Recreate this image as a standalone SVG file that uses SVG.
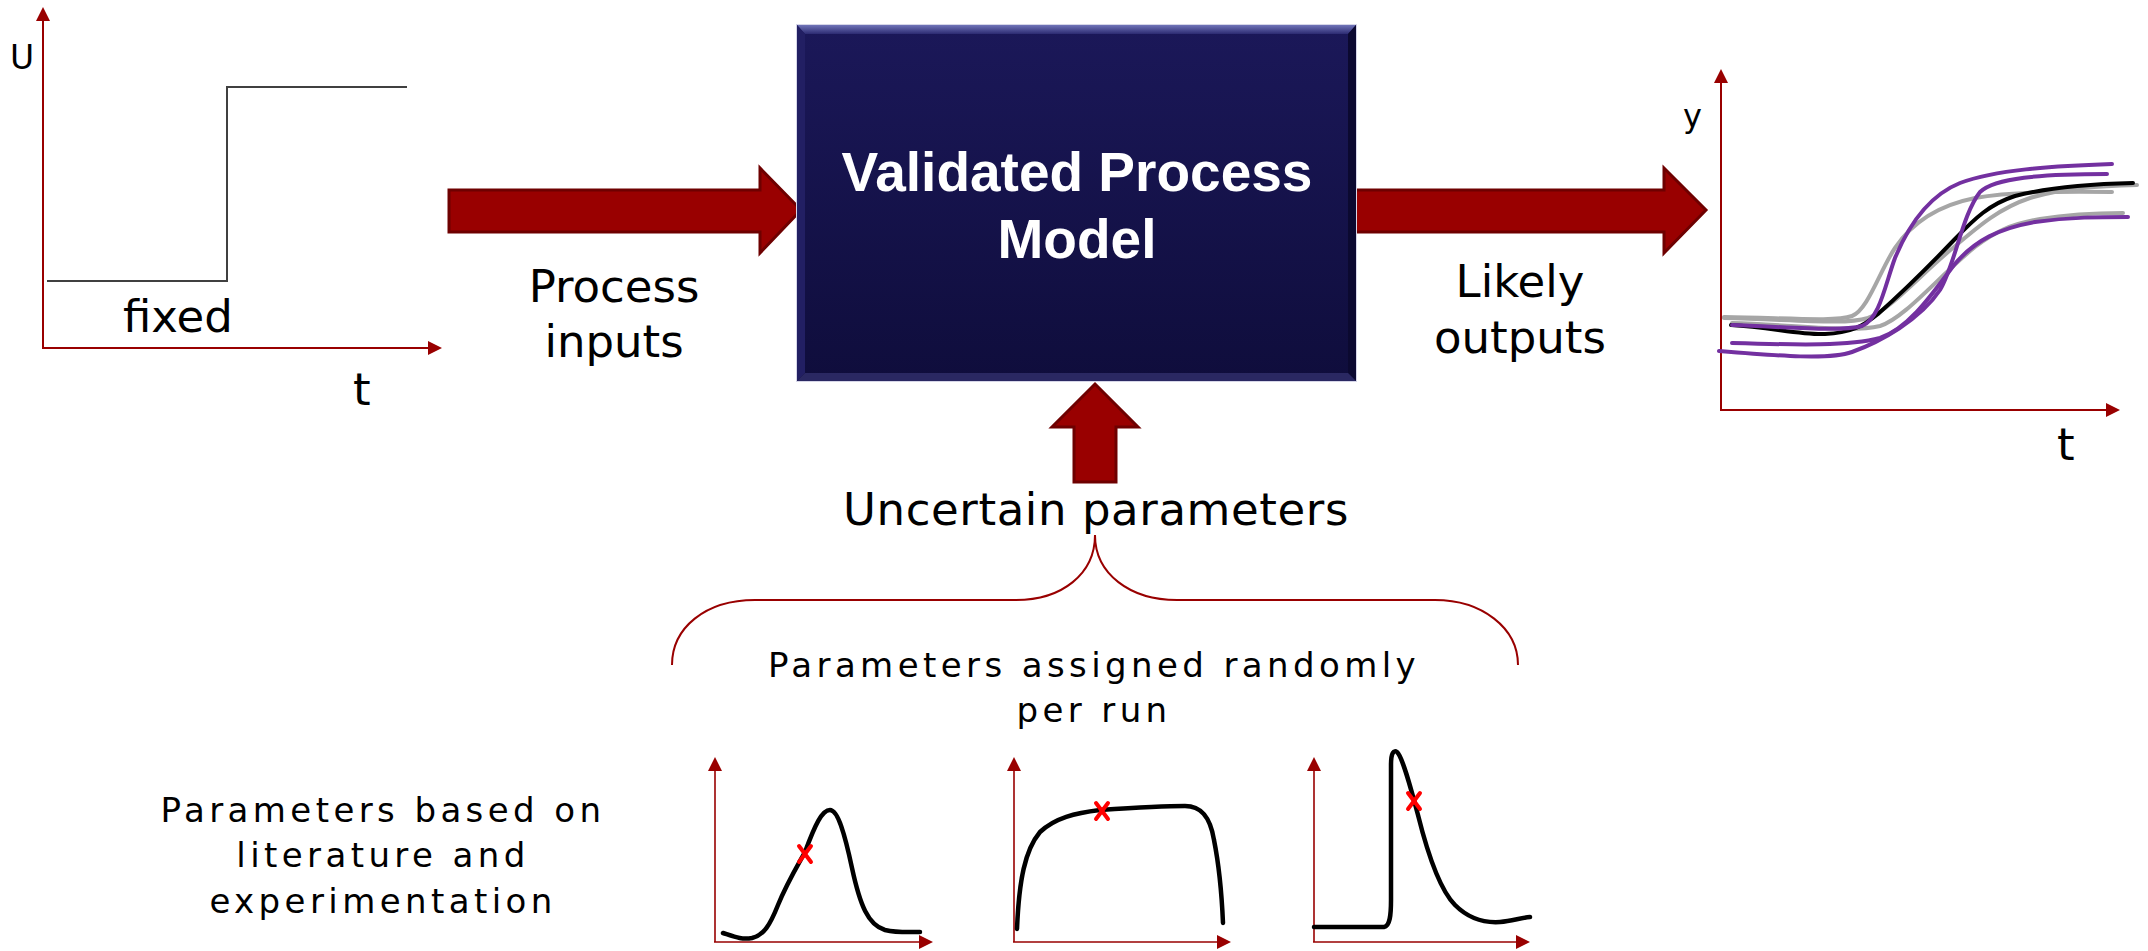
<svg xmlns="http://www.w3.org/2000/svg" width="2148" height="951" viewBox="0 0 2148 951">
  <style>
    .lbl { font-family: "DejaVu Sans", "Liberation Sans", sans-serif; fill: #000; }
    .big { font-size: 45px; }
    .axl { font-size: 33px; }
    .sm { font-size: 34px; letter-spacing: 4.4px; }
    .title { font-family: "Liberation Sans", Arial, sans-serif; font-weight: bold; font-size: 55px; fill: #fff; }
    .axis { stroke: #990000; stroke-width: 2; fill: none; marker-end: url(#ah); }
    .axis-s { stroke: #990000; stroke-width: 1.6; fill: none; marker-end: url(#ah); }
    .bigarrow { fill: #990000; stroke: #6e0000; stroke-width: 3; stroke-linejoin: miter; }
    .dist { fill: none; stroke: #000; stroke-width: 4.5; stroke-linecap: round; stroke-linejoin: round; }
    .run { fill: none; stroke-width: 4; stroke-linecap: round; }
    .purple { stroke: #7330a0; }
    .gray { stroke: #a6a6a6; }
    .black { stroke: #000; }
    .mark { stroke: #ff0000; stroke-width: 4; stroke-linecap: round; }
  </style>
  <defs>
    <marker id="ah" viewBox="0 0 14 14" refX="8" refY="7" markerWidth="14" markerHeight="14" markerUnits="userSpaceOnUse" orient="auto">
      <path d="M0 0 L14 7 L0 14 Z" fill="#990000"/>
    </marker>
    <linearGradient id="boxfill" x1="0" y1="0" x2="0" y2="1">
      <stop offset="0" stop-color="#1b1859"/>
      <stop offset="1" stop-color="#0f0d3c"/>
    </linearGradient>
    <linearGradient id="bevelTop" x1="0" y1="0" x2="0" y2="1">
      <stop offset="0" stop-color="#7074b8"/>
      <stop offset="1" stop-color="#2c2b72"/>
    </linearGradient>
    <g id="xmark">
      <line x1="-6" y1="-8" x2="6" y2="8" class="mark"/>
      <line x1="6" y1="-8" x2="-6" y2="8" class="mark"/>
    </g>
  </defs>

  <rect width="2148" height="951" fill="#fff"/>

  <!-- big block arrows -->
  <g id="connectors">
    <path class="bigarrow" d="M449 190 L760 190 L760 168 L801 210 L760 253 L760 232 L449 232 Z"/>
    <path class="bigarrow" d="M1352 190 L1664 190 L1664 168 L1706 210 L1664 253 L1664 232 L1352 232 Z"/>
    <path class="bigarrow" d="M1095 384 L1138 427 L1116 427 L1116 482 L1074 482 L1074 427 L1052 427 Z"/>
  </g>

  <!-- model block -->
  <g id="model">
    <rect x="796" y="24" width="561" height="358" fill="#d6d6e8"/>
    <rect x="797" y="25" width="559" height="356" fill="url(#boxfill)"/>
    <polygon points="797,25 1356,25 1348,34 805,34" fill="url(#bevelTop)"/>
    <polygon points="797,25 805,34 805,373 797,381" fill="#221f63"/>
    <polygon points="1356,25 1356,381 1348,373 1348,34" fill="#0b0930"/>
    <polygon points="797,381 805,373 1348,373 1356,381" fill="#2a2862"/>
    <text class="title" x="1077" y="191" text-anchor="middle">Validated Process</text>
    <text class="title" x="1077" y="258" text-anchor="middle">Model</text>
  </g>

  <g id="inputs-label">
    <text class="lbl big" x="614" y="302" text-anchor="middle">Process</text>
    <text class="lbl big" x="614" y="357" text-anchor="middle">inputs</text>
  </g>

  <g id="outputs-label">
    <text class="lbl big" x="1520" y="297" text-anchor="middle">Likely</text>
    <text class="lbl big" x="1520" y="353" text-anchor="middle">outputs</text>
  </g>

  <!-- step input chart -->
  <g id="input-chart">
    <line class="axis" x1="43" y1="348" x2="43" y2="13"/>
    <line class="axis" x1="42" y1="348" x2="436" y2="348"/>
    <path d="M47 281 L227 281 L227 87 L407 87" fill="none" stroke="#404040" stroke-width="2"/>
    <text class="lbl axl" x="10" y="69">U</text>
    <text class="lbl big" x="123" y="332">fixed</text>
    <text class="lbl big" x="353" y="405">t</text>
  </g>

  <!-- output trajectories chart -->
  <g id="output-chart">
    <line class="axis" x1="1721" y1="410" x2="1721" y2="75"/>
    <line class="axis" x1="1720" y1="410" x2="2114" y2="410"/>
    <text class="lbl" x="1683" y="127" font-size="32">y</text>
    <text class="lbl big" x="2057" y="460">t</text>
    <path class="run gray" d="M1724 317 C1790 318 1835 322 1852 316 C1868 310 1880 270 1895 248 C1915 218 1945 204 1975 198 C2010 192 2060 191 2112 192"/>
    <path class="run gray" d="M1724 318 C1800 320 1845 325 1868 318 C1890 310 1920 275 1954 247 C1980 225 2000 208 2030 198 C2065 188 2100 186 2137 185"/>
    <path class="run gray" d="M1732 323 C1800 325 1850 333 1880 326 C1905 318 1940 275 1975 247 C1995 232 2010 224 2040 219 C2070 214 2100 213 2123 213"/>
    <path class="run black" d="M1731 325 C1770 327 1800 335 1825 334 C1850 333 1862 327 1878 314 C1905 290 1930 265 1954 240 C1975 218 1990 204 2015 196 C2050 187 2090 184 2133 183"/>
    <path class="run purple" d="M1732 325 C1790 327 1840 332 1862 326 C1880 318 1885 285 1895 258 C1910 222 1930 195 1960 183 C1995 170 2050 166 2112 164"/>
    <path class="run purple" d="M1719 351 C1780 356 1830 360 1852 352 C1880 342 1920 320 1940 290 C1955 265 1962 215 1980 192 C1995 178 2040 174 2107 174"/>
    <path class="run purple" d="M1732 343 C1800 345 1850 346 1880 338 C1910 328 1935 290 1954 265 C1975 240 2000 228 2035 222 C2070 217 2100 217 2128 217"/>
  </g>

  <g id="uncertain">
    <text class="lbl big" x="1096" y="525" text-anchor="middle" letter-spacing="0.6">Uncertain parameters</text>
    <path d="M672 665 C672 628 705 600 755 600 L1016 600 C1062 600 1095 574 1095 535 C1095 574 1130 600 1177 600 L1435 600 C1482 600 1518 628 1518 665" fill="none" stroke="#990000" stroke-width="2"/>
    <text class="lbl sm" x="1094" y="677" text-anchor="middle">Parameters assigned randomly</text>
    <text class="lbl sm" x="1094" y="722" text-anchor="middle">per run</text>
  </g>

  <g id="source-note">
    <text class="lbl sm" x="383" y="822" text-anchor="middle">Parameters based on</text>
    <text class="lbl sm" x="383" y="867" text-anchor="middle">literature and</text>
    <text class="lbl sm" x="383" y="913" text-anchor="middle">experimentation</text>
  </g>

  <!-- parameter distributions -->
  <g id="dist-peak">
    <line class="axis-s" x1="715" y1="942" x2="715" y2="763"/>
    <line class="axis-s" x1="714" y1="942" x2="927" y2="942"/>
    <path class="dist" d="M723 933 C735 937 742 940 752 938 C764 935 770 925 778 905 C786 885 795 870 805 852 C815 825 822 810 830 810 C838 810 845 835 852 868 C860 905 868 925 885 930 C898 933 910 932 920 932"/>
    <use href="#xmark" x="805" y="854"/>
  </g>

  <g id="dist-plateau">
    <line class="axis-s" x1="1014" y1="942" x2="1014" y2="763"/>
    <line class="axis-s" x1="1013" y1="942" x2="1225" y2="942"/>
    <path class="dist" d="M1017 929 C1019 880 1025 850 1040 832 C1055 818 1075 813 1100 810 C1130 808 1160 806 1185 806 C1200 806 1210 815 1214 840 C1220 870 1222 900 1223 923"/>
    <use href="#xmark" x="1102" y="811"/>
  </g>

  <g id="dist-spike">
    <line class="axis-s" x1="1314" y1="942" x2="1314" y2="763"/>
    <line class="axis-s" x1="1313" y1="942" x2="1524" y2="942"/>
    <path class="dist" d="M1314 927 L1384 927 C1390 926 1391 915 1391 900 L1391 765 C1391 752 1394 750 1397 752 C1402 756 1410 785 1418 815 C1428 855 1440 890 1455 905 C1470 920 1485 923 1500 922 C1512 921 1520 918 1530 917"/>
    <use href="#xmark" x="1414" y="801"/>
  </g>
</svg>
